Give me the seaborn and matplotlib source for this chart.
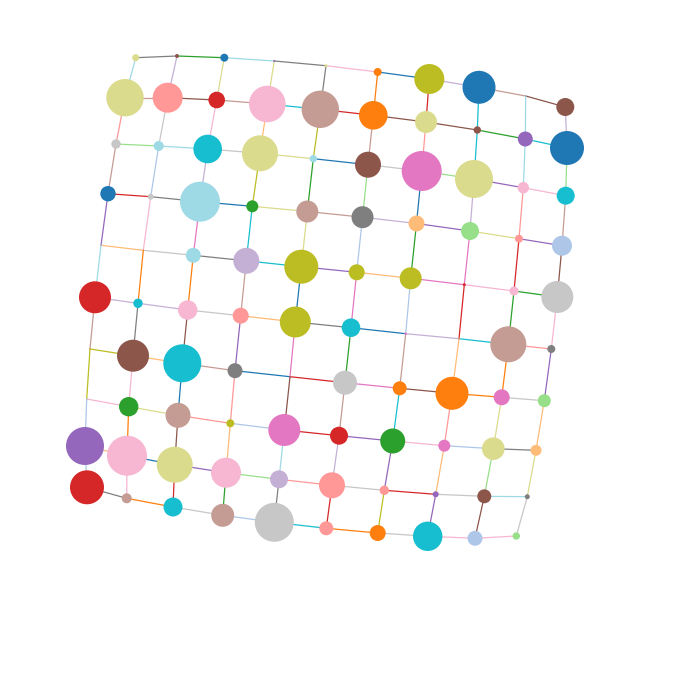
import numpy as np
import pandas as pd
import matplotlib
matplotlib.use("Agg")
import matplotlib.pyplot as plt
import seaborn as sns

# node grid, 10 rows x 10 columns, positions (pixels)
node_x = [
    [135.7, 177.0, 224.3, 274.3, 326.0, 377.7, 429.3, 479.0, 525.7, 565.3],
    [125.0, 167.7, 216.7, 267.3, 320.3, 373.3, 426.0, 477.3, 525.3, 567.0],
    [116.0, 158.7, 207.7, 260.0, 313.3, 368.0, 421.7, 474.0, 523.3, 565.7],
    [108.0, 150.7, 200.0, 252.3, 307.3, 362.5, 416.5, 470.0, 519.0, 562.0],
    [101.0, 143.3, 193.3, 246.3, 301.3, 356.7, 410.7, 464.3, 514.0, 557.3],
    [95.0, 138.0, 187.7, 240.7, 295.3, 351.0, 405.7, 459.0, 508.3, 551.3],
    [90.0, 133.0, 182.3, 235.0, 290.0, 345.0, 399.7, 452.0, 501.7, 544.3],
    [86.7, 128.7, 178.0, 230.3, 284.3, 339.0, 392.7, 444.3, 493.3, 536.0],
    [85.0, 127.0, 174.7, 226.0, 279.0, 332.0, 384.3, 435.7, 484.3, 527.3],
    [87.0, 126.7, 173.0, 222.7, 274.3, 326.3, 377.7, 427.7, 475.0, 516.3],
]
node_y = [
    [57.7, 56.0, 57.7, 61.0, 65.7, 72.0, 79.0, 87.3, 96.0, 107.0],
    [97.7, 97.7, 100.0, 104.0, 109.3, 115.3, 122.0, 130.0, 139.0, 148.0],
    [144.0, 146.0, 149.0, 153.3, 158.7, 164.7, 171.0, 179.0, 187.7, 195.7],
    [193.7, 196.7, 201.7, 206.3, 211.5, 217.2, 223.5, 231.0, 238.7, 245.7],
    [245.3, 250.3, 255.3, 260.8, 266.7, 272.3, 278.3, 284.7, 291.0, 297.0],
    [297.3, 303.3, 310.0, 315.7, 322.0, 327.7, 333.7, 338.7, 344.3, 349.0],
    [349.0, 355.7, 363.3, 370.7, 376.7, 382.7, 388.3, 393.3, 397.3, 400.7],
    [399.0, 406.7, 415.3, 423.3, 430.0, 435.7, 441.0, 445.7, 448.7, 450.3],
    [446.0, 455.7, 464.7, 472.7, 479.3, 485.3, 490.3, 494.3, 496.3, 496.7],
    [487.3, 498.3, 507.0, 515.3, 522.3, 528.3, 533.0, 536.3, 538.3, 536.0],
]
# node weight (radius in pixels as seen)
node_weight = [
    [3.5, 2.0, 4.0, 1.0, 1.5, 4.0, 15.0, 16.5, 0.0, 9.0],
    [18.7, 15.0, 8.3, 18.3, 18.7, 14.3, 11.0, 3.7, 7.5, 17.0],
    [4.7, 5.0, 14.3, 18.0, 3.7, 13.0, 20.0, 19.0, 5.7, 9.0],
    [7.7, 3.0, 20.0, 6.0, 11.0, 11.0, 8.0, 9.0, 4.0, 10.0],
    [0.0, 0.0, 7.5, 13.0, 17.0, 8.0, 11.0, 1.5, 4.5, 16.0],
    [16.0, 4.7, 9.7, 8.0, 15.5, 9.3, 1.2, 0.0, 18.0, 4.0],
    [0.0, 16.0, 19.0, 7.5, 0.0, 12.0, 7.0, 16.5, 8.0, 6.5],
    [0.0, 9.7, 12.5, 4.0, 16.0, 9.0, 12.5, 6.0, 11.3, 5.5],
    [19.0, 20.0, 18.0, 15.0, 9.0, 13.0, 4.7, 3.0, 7.0, 2.5],
    [17.0, 5.0, 9.5, 11.5, 19.5, 7.0, 8.0, 14.7, 7.5, 3.7],
]
# tab20 index of each node
node_group = [
    [17, 10, 0, 8, 17, 2, 16, 0, 15, 10],
    [17, 7, 6, 13, 11, 2, 17, 10, 8, 0],
    [15, 19, 18, 17, 19, 10, 12, 17, 13, 18],
    [0, 15, 19, 4, 11, 14, 3, 5, 7, 1],
    [15, 15, 19, 9, 16, 16, 16, 6, 13, 15],
    [6, 18, 13, 7, 16, 18, 12, 15, 11, 14],
    [15, 10, 18, 14, 15, 15, 2, 2, 12, 5],
    [15, 4, 11, 16, 12, 6, 4, 12, 17, 3],
    [8, 13, 17, 13, 9, 7, 7, 8, 10, 14],
    [6, 11, 18, 11, 15, 7, 2, 18, 1, 5],
]
# tab20 index of each horizontal link (row r, col c -> c+1)
h_group = [
    [14, 4, 19, 14, 13, 0, 9, 11, 10],
    [11, 10, 11, 18, 6, 10, 10, 4, 18],
    [5, 19, 15, 17, 0, 15, 5, 8, 13],
    [6, 14, 0, 17, 11, 9, 8, 17, 8],
    [3, 15, 14, 18, 8, 3, 12, 13, 4],
    [9, 9, 15, 3, 14, 0, 9, 18, 7],
    [16, 3, 11, 0, 6, 12, 10, 2, 15],
    [13, 17, 7, 1, 6, 8, 13, 1, 14],
    [3, 0, 8, 5, 7, 15, 6, 15, 19],
    [14, 2, 15, 1, 18, 2, 15, 13, 13],
]
# tab20 index of each vertical link (row r -> r+1, col c)
v_group = [
    [19, 9, 17, 17, 14, 2, 6, 18, 19, 9],
    [7, 15, 13, 3, 16, 11, 7, 18, 19, 5],
    [11, 1, 9, 16, 4, 5, 0, 9, 7, 11],
    [8, 13, 12, 18, 17, 1, 4, 12, 6, 10],
    [19, 2, 2, 11, 0, 12, 1, 6, 4, 13],
    [11, 14, 10, 8, 12, 4, 11, 3, 2, 8],
    [16, 13, 0, 7, 10, 11, 18, 7, 17, 3],
    [1, 2, 10, 3, 19, 9, 8, 3, 5, 17],
    [1, 13, 6, 4, 14, 6, 16, 8, 10, 15],
]

tab20 = sns.color_palette("tab20", 20)

nodes = pd.DataFrame({
    "x": np.ravel(node_x),
    "y": np.ravel(node_y),
    "w": np.ravel(node_weight),
    "g": np.ravel(node_group),
})
nodes["area"] = nodes["w"] ** 2

rows = []
edge_colors = {}
for r in range(10):
    for c in range(9):
        eid = "h%d_%d" % (r, c)
        edge_colors[eid] = tab20[h_group[r][c]]
        rows.append((eid, node_x[r][c], node_y[r][c]))
        rows.append((eid, node_x[r][c + 1], node_y[r][c + 1]))
for r in range(9):
    for c in range(10):
        eid = "v%d_%d" % (r, c)
        edge_colors[eid] = tab20[v_group[r][c]]
        rows.append((eid, node_x[r][c], node_y[r][c]))
        rows.append((eid, node_x[r + 1][c], node_y[r + 1][c]))
edges = pd.DataFrame(rows, columns=["edge", "x", "y"])

fig = plt.figure(figsize=(6.82, 6.82), dpi=100)
ax = fig.add_axes([0, 0, 1, 1])

sns.lineplot(data=edges, x="x", y="y", hue="edge", palette=edge_colors,
             units="edge", estimator=None, sort=False, legend=False,
             linewidth=0.9, ax=ax, zorder=1)

# radius 20 px -> 28.8 pt diameter
max_area = 20.0 ** 2
sns.scatterplot(data=nodes, x="x", y="y", size="area",
                sizes=(0, (1.44 * 20) ** 2), size_norm=(0, max_area),
                hue="g", palette={i: tab20[i] for i in range(20)},
                linewidth=0, legend=False, ax=ax, zorder=2)

ax.set_xlim(0, 682)
ax.set_ylim(682, 0)
ax.axis("off")
fig.savefig("out.png", dpi=100)
